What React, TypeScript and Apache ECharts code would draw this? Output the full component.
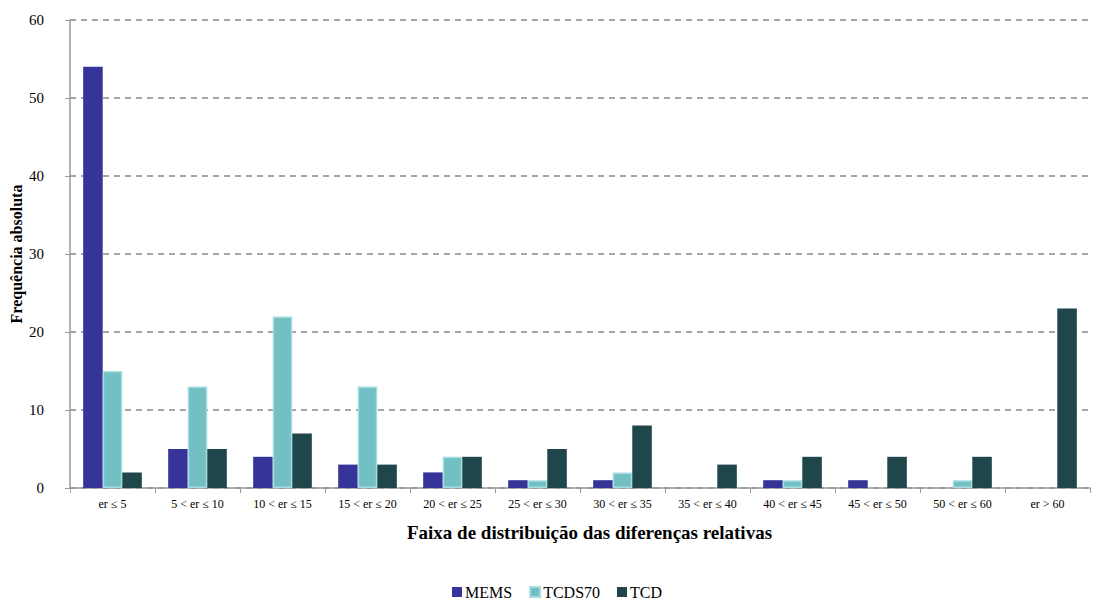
import React, { useEffect, useRef } from "react";
import * as echarts from "echarts";

const categories = [
  "er ≤ 5", "5 < er ≤ 10", "10 < er ≤ 15", "15 < er ≤ 20", "20 < er ≤ 25", "25 < er ≤ 30",
  "30 < er ≤ 35", "35 < er ≤ 40", "40 < er ≤ 45", "45 < er ≤ 50", "50 < er ≤ 60", "er > 60",
];
const mems = [54, 5, 4, 3, 2, 1, 1, 0, 1, 1, 0, 0];
const tcds70 = [15, 13, 22, 13, 4, 1, 2, 0, 1, 0, 1, 0];
const tcd = [2, 5, 7, 3, 4, 5, 8, 3, 4, 4, 4, 23];

const FONT = "Liberation Serif";
const hideZero = (arr: number[]) => arr.map((v) => (v === 0 ? "-" : v));

export default function App() {
  const ref = useRef<HTMLDivElement>(null);
  useEffect(() => {
    const chart = echarts.init(ref.current!, undefined, { renderer: "svg" });
    chart.setOption({
      animation: false,
      textStyle: { fontFamily: FONT },
      grid: { left: 70, right: 4, top: 20, bottom: 111, containLabel: false, outerBoundsMode: "none" },
      legend: {
        top: 579,
        left: 447,
        itemWidth: 10,
        itemHeight: 10,
        itemGap: 17,
        icon: "rect",
        textStyle: { fontFamily: FONT, fontSize: 16, color: "#000", padding: [0, 0, 0, -2] },
        data: ["MEMS", "TCDS70", "TCD"],
      },
      xAxis: {
        type: "category",
        data: categories,
        name: "Faixa de distribuição das diferenças relativas",
        nameLocation: "middle",
        nameGap: 35,
        nameMoveOverlap: false,
        nameTextStyle: {
          fontFamily: FONT, fontSize: 19, fontWeight: "bold", color: "#000", padding: [0, 0, 0, 19],
        },
        axisLine: { lineStyle: { color: "#999", width: 1.5 } },
        axisTick: { show: true, length: 5, lineStyle: { color: "#999" } },
        axisLabel: { fontFamily: FONT, fontSize: 12, color: "#000", margin: 10, interval: 0 },
      },
      yAxis: {
        type: "value",
        min: 0,
        max: 60,
        interval: 10,
        name: "Frequência absoluta",
        nameLocation: "middle",
        nameGap: 46,
        nameMoveOverlap: false,
        nameTextStyle: { fontFamily: FONT, fontSize: 16, fontWeight: "bold", color: "#000" },
        axisLine: { show: true, lineStyle: { color: "#999", width: 1.5 } },
        axisTick: { show: true, length: 5, lineStyle: { color: "#999" } },
        axisLabel: { fontFamily: FONT, fontSize: 15, color: "#000", margin: 26 },
        splitLine: { lineStyle: { color: "#888", type: [6, 5], width: 1.5 } },
      },
      series: [
        {
          name: "MEMS",
          type: "bar",
          data: hideZero(mems),
          barGap: "0%",
          barCategoryGap: "31%",
          itemStyle: { color: "#363399" },
        },
        {
          name: "TCDS70",
          type: "bar",
          data: hideZero(tcds70),
          itemStyle: { color: "#72BFC4", borderColor: "#A6DCE0", borderWidth: 1.5 },
        },
        {
          name: "TCD",
          type: "bar",
          data: hideZero(tcd),
          itemStyle: { color: "#1F474B" },
        },
      ],
    });
    return () => chart.dispose();
  }, []);
  return <div ref={ref} style={{ width: 1094, height: 599, position: "absolute", left: 0, top: 0 }} />;
}
